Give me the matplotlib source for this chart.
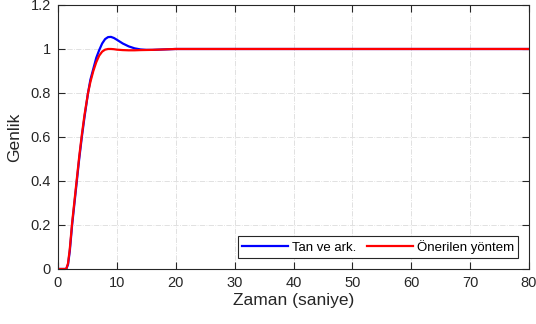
import numpy as np
import matplotlib
matplotlib.use('agg')
import matplotlib.pyplot as plt

# Step responses
t_tan = [0, 1.4, 1.7, 2.0, 2.4, 2.8, 3.2, 3.6, 4.05, 4.5, 5.1, 5.5, 6.0, 6.5,
         7.0, 7.5, 8.0, 8.5, 9.0, 9.5, 10, 11, 12, 13, 14, 15, 16, 18, 20, 80]
y_tan = [0, 0, 0.02, 0.08, 0.2, 0.3, 0.4, 0.5, 0.6, 0.69, 0.8, 0.86, 0.91, 0.96,
         0.995, 1.025, 1.045, 1.054, 1.055, 1.05, 1.042, 1.025, 1.012, 1.003,
         0.998, 0.996, 0.996, 0.998, 1.0, 1.0]

t_prop = [0, 1.4, 1.7, 2.0, 2.4, 2.8, 3.2, 3.6, 4.05, 4.5, 5.1, 5.5, 6.0, 6.5,
          7.0, 7.5, 8.0, 8.5, 9.0, 9.5, 10, 11, 12, 13, 14, 16, 18, 20, 80]
y_prop = [0, 0, 0.025, 0.09, 0.21, 0.31, 0.41, 0.51, 0.61, 0.7, 0.8, 0.85,
          0.9, 0.94, 0.97, 0.988, 0.997, 1.0, 1.0, 0.999, 0.997, 0.995, 0.994,
          0.994, 0.995, 0.996, 0.998, 1.0, 1.0]

x_ticks = [0, 10, 20, 30, 40, 50, 60, 70, 80]
y_ticks = [0, 0.2, 0.4, 0.6, 0.8, 1.0, 1.2]
y_ticklabels = ['0', '0.2', '0.4', '0.6', '0.8', '1', '1.2']

plt.rcParams['font.family'] = ['Liberation Sans', 'DejaVu Sans']

fig = plt.figure(figsize=(5.36, 3.24), dpi=100)
ax = fig.add_axes([0.1082, 0.1698, 0.8788, 0.8148])

ax.plot(t_tan, y_tan, color='#0000ff', lw=1.6, label='Tan ve ark.')
ax.plot(t_prop, y_prop, color='#ff0000', lw=1.6, label='Önerilen yöntem')

ax.set_xlim(0, 80)
ax.set_ylim(0, 1.2)
ax.set_xticks(x_ticks)
ax.set_yticks(y_ticks)
ax.set_yticklabels(y_ticklabels)
ax.grid(True, ls='-.', color='#dcdcdc', lw=0.6)
ax.tick_params(direction='in', top=True, right=True, labelsize=10.5,
               colors='#262626', length=5, pad=5)
for s in ax.spines.values():
    s.set_color('#262626')
    s.set_linewidth(0.8)

ax.set_xlabel('Zaman (saniye)', fontsize=12.5, color='#262626', labelpad=2)
ax.set_ylabel('Genlik', fontsize=12.5, color='#262626', labelpad=6)

leg = ax.legend(loc='lower right', ncol=2, fontsize=9.5, fancybox=False,
                framealpha=1, edgecolor='#262626', handlelength=3.5,
                borderaxespad=0.85, columnspacing=0.8, handletextpad=0.3,
                borderpad=0.3)
leg.get_frame().set_linewidth(0.8)

fig.savefig('out.png', dpi=100, facecolor='w')
